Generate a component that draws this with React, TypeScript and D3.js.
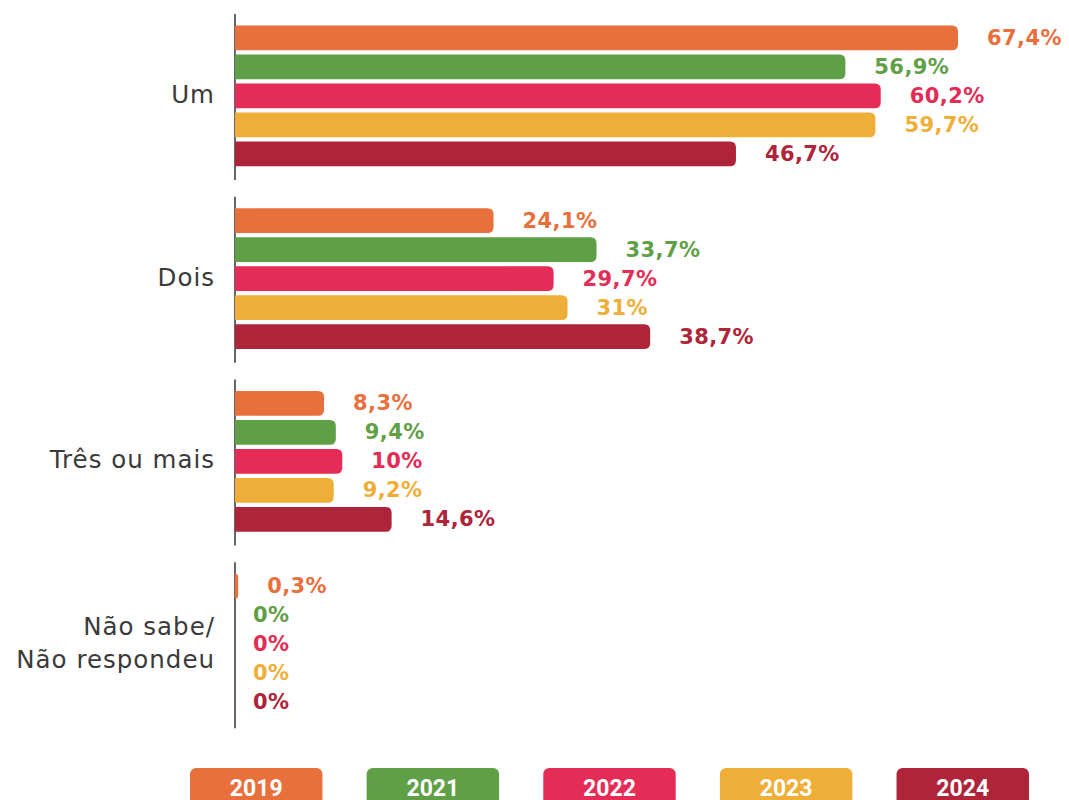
import React from 'react';
import * as d3 from 'd3';

const categories = ['Um', 'Dois', 'Três ou mais', 'Não sabe/\nNão respondeu'];
const years = ['2019', '2021', '2022', '2023', '2024'];
const colors = ['#E8703D', '#5FA046', '#E42C56', '#EFAE38', '#AE2439'];

const values2019 = [67.4, 24.1, 8.3, 0.3];
const values2021 = [56.9, 33.7, 9.4, 0];
const values2022 = [60.2, 29.7, 10, 0];
const values2023 = [59.7, 31, 9.2, 0];
const values2024 = [46.7, 38.7, 14.6, 0];
const seriesValues = [values2019, values2021, values2022, values2023, values2024];

const width = 1069;
const height = 800;
const axisX = 235;

const fmt = (v: number) => `${String(v).replace('.', ',')}%`;

// bar with flat left and rounded right end
const barPath = (x0: number, x1: number, y: number, h: number, r: number) => {
  const w = x1 - x0;
  if (w <= 0) return '';
  const rr = Math.min(r, w, h / 2);
  return `M${x0},${y}H${x1 - rr}Q${x1},${y} ${x1},${y + rr}V${y + h - rr}Q${x1},${y + h} ${x1 - rr},${y + h}H${x0}Z`;
};

export default function App() {
  const x = d3.scaleLinear().domain([0, 67.4]).range([axisX, 958]);
  const y = d3.scaleBand<string>().domain(categories).range([4.5, 735.5]).padding(0);
  const step = y.step();

  const legendX = d3.scaleBand<string>().domain(years).range([190, 1029]).paddingInner(0.25);

  return (
    <svg
      width={width}
      height={height}
      style={{ position: 'absolute', left: 0, top: 0, display: 'block', background: '#fff' }}
    >
      {categories.map((cat, ci) => {
        const cy = (y(cat) as number) + step / 2;
        const inner = d3.scaleBand<string>().domain(years).range([cy - 72.5, cy + 72.5]).paddingInner(0.14).paddingOuter(0.07);
        const lines = cat.split('\n');
        return (
          <g key={cat}>
            <line x1={axisX} x2={axisX} y1={cy - 82} y2={cy + 84} stroke="#333" strokeWidth={1.5} />
            <text
              x={215}
              y={cy - ((lines.length - 1) * 33) / 2}
              textAnchor="end"
              dominantBaseline="middle"
              fontFamily="'DejaVu Sans', sans-serif"
              fontWeight={400}
              fontSize={24.5}
              letterSpacing={1}
              fill="#3a3a3a"
            >
              {lines.map((l, li) => (
                <tspan key={li} x={215} dy={li === 0 ? 0 : 33}>{l}</tspan>
              ))}
            </text>
            {years.map((yr, si) => {
              const v = seriesValues[si][ci];
              const by = inner(yr) as number;
              const bh = inner.bandwidth();
              return (
                <g key={yr}>
                  <path d={barPath(x(0), x(v), by, bh, 6)} fill={colors[si]} />
                  <text
                    x={x(v) + (v === 0 ? 18 : 29)}
                    y={by + bh / 2}
                    dominantBaseline="central"
                    fontFamily="'DejaVu Sans', sans-serif"
                    fontWeight={700}
                    fontSize={21}
                    letterSpacing={0.4}
                    fill={colors[si]}
                  >
                    {fmt(v)}
                  </text>
                </g>
              );
            })}
          </g>
        );
      })}

      {years.map((yr, si) => {
        const lx = legendX(yr) as number;
        const lw = legendX.bandwidth();
        return (
          <g key={yr}>
            <rect x={lx} y={768} width={lw} height={50} rx={6} fill={colors[si]} />
            <text
              x={lx + lw / 2}
              y={788}
              textAnchor="middle"
              dominantBaseline="central"
              fontFamily="'Liberation Sans Narrow', Roboto, sans-serif"
              fontWeight={700}
              fontSize={23}
              fill="#fff"
            >
              {yr}
            </text>
          </g>
        );
      })}
    </svg>
  );
}
